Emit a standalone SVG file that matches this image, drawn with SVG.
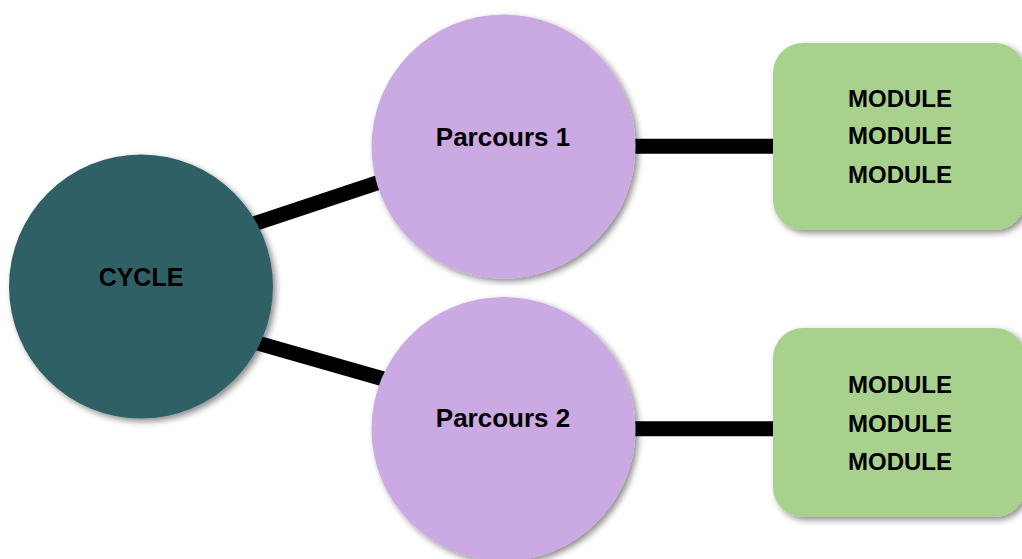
<svg xmlns="http://www.w3.org/2000/svg" width="1022" height="559" viewBox="0 0 1022 559">
  <defs>
    <filter id="sh" x="-20%" y="-20%" width="140%" height="140%">
      <feDropShadow dx="3" dy="3" stdDeviation="3" flood-color="#000" flood-opacity="0.45"/>
    </filter>
    <style>
      .lbl { font-family: "Liberation Sans", Arial, sans-serif; font-weight: bold; fill: #000; text-anchor: middle; }
      .conn { stroke: #000; stroke-width: 15; fill: none; }
      .cycle { fill: #2E6066; filter: url(#sh); }
      .parc { fill: #CBA9E3; filter: url(#sh); }
      .mod { fill: #A8D18D; filter: url(#sh); }
    </style>
  </defs>
  <rect width="1022" height="559" fill="#fff"/>
  <g id="connectors">
    <line class="conn" x1="240" y1="228.6" x2="390" y2="178.6"/>
    <line class="conn" x1="245" y1="339.5" x2="395" y2="382.3"/>
    <line class="conn" x1="620" y1="146.3" x2="780" y2="146.3" stroke-width="16"/>
    <line class="conn" x1="620" y1="428.7" x2="780" y2="428.7" stroke-width="16"/>
  </g>
  <g id="cycle">
    <circle class="cycle" cx="141" cy="286.5" r="132"/>
    <text class="lbl" x="141" y="286" font-size="25">CYCLE</text>
  </g>
  <g id="parcours1">
    <circle class="parc" cx="503.5" cy="146.5" r="132"/>
    <text class="lbl" x="503" y="145.5" font-size="26">Parcours 1</text>
  </g>
  <g id="parcours2">
    <circle class="parc" cx="503.5" cy="429" r="132"/>
    <text class="lbl" x="503" y="426.5" font-size="26">Parcours 2</text>
  </g>
  <g id="modules1">
    <rect class="mod" x="773" y="43" width="252" height="187" rx="30" ry="30"/>
    <text class="lbl" x="900" y="107" font-size="24">MODULE</text>
    <text class="lbl" x="900" y="144" font-size="24">MODULE</text>
    <text class="lbl" x="900" y="183" font-size="24">MODULE</text>
  </g>
  <g id="modules2">
    <rect class="mod" x="773" y="328" width="252" height="189" rx="30" ry="30"/>
    <text class="lbl" x="900" y="393" font-size="24">MODULE</text>
    <text class="lbl" x="900" y="431.5" font-size="24">MODULE</text>
    <text class="lbl" x="900" y="470" font-size="24">MODULE</text>
  </g>
</svg>
